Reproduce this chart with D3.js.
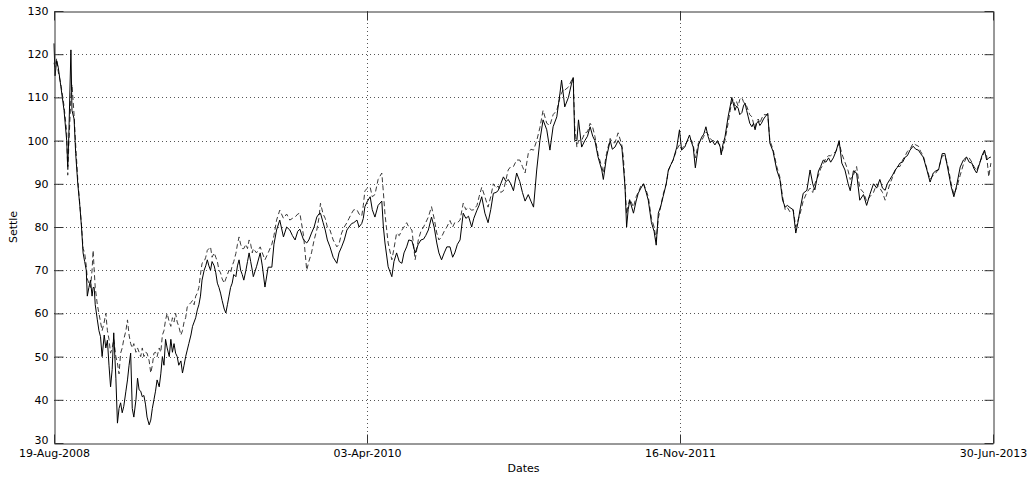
<!DOCTYPE html>
<html>
<head>
<meta charset="utf-8">
<script src="https://cdn.jsdelivr.net/npm/d3@7"></script>
<style>
html,body{margin:0;padding:0;background:#fff;}
svg text{font-family:"DejaVu Sans","Liberation Sans",Arial,sans-serif;fill:#000;}
</style>
</head>
<body>
<svg id="chart" width="1035" height="479"></svg>
<script>
// ---- data ----
const startDate = "2008-08-19";
const endDate = "2013-06-30";
const xTickDates = ["2008-08-19", "2010-04-03", "2011-11-16", "2013-06-30"];
const yTickValues = [30, 40, 50, 60, 70, 80, 90, 100, 110, 120, 130];
const yLabel = "Settle";
const xLabel = "Dates";
// calendar days after the start date
const dayOffsets = [0,2,5,8,13,19,24,26,28,32,34,38,41,45,49,52,55,58,61,63,66,69,72,74,76,78,82,85,88,91,95,98,101,104,107,110,113,117,120,123,126,129,132,136,139,142,145,148,151,155,158,161,164,167,170,173,176,180,183,186,189,192,195,199,202,205,208,211,214,218,221,224,227,230,233,236,240,243,246,249,252,255,259,262,265,268,271,274,277,280,284,287,290,293,296,299,303,306,309,312,315,318,322,325,328,331,334,337,340,344,347,350,353,356,359,363,366,369,372,375,377,383,390,394,399,405,412,416,421,427,434,440,446,451,456,461,465,472,478,482,487,492,497,501,504,509,513,517,522,528,535,539,544,549,554,558,563,567,573,577,582,585,588,593,598,602,607,613,620,623,626,632,639,643,648,653,658,662,667,671,677,683,689,694,699,703,708,714,719,724,728,733,738,743,749,754,758,763,768,774,779,784,790,794,800,804,809,815,821,826,831,836,840,845,850,855,859,864,869,875,881,886,891,897,902,907,913,919,925,932,938,944,951,957,960,964,966,973,979,982,985,989,992,998,1004,1009,1014,1019,1023,1029,1036,1039,1045,1052,1056,1061,1067,1074,1077,1080,1083,1086,1089,1096,1101,1105,1110,1115,1120,1124,1130,1135,1139,1143,1148,1152,1158,1162,1167,1171,1178,1183,1187,1193,1202,1206,1209,1213,1219,1225,1229,1233,1237,1241,1245,1250,1255,1260,1262,1265,1269,1275,1279,1282,1285,1288,1291,1294,1297,1301,1304,1307,1310,1313,1316,1320,1323,1326,1329,1332,1335,1338,1342,1345,1350,1354,1360,1367,1373,1378,1383,1387,1392,1398,1403,1407,1411,1417,1424,1430,1435,1439,1446,1450,1455,1460,1465,1469,1474,1479,1485,1490,1496,1502,1506,1512,1518,1524,1531,1537,1543,1550,1556,1562,1567,1572,1576,1581,1586,1591,1595,1600,1605,1610,1614,1619,1625,1630,1635,1639,1644,1651,1657,1663,1668,1673,1680,1685,1691,1697,1702,1707,1714,1720,1726,1731,1736,1740,1745,1751,1755,1760,1764,1768,1772];
// solid line
const settleA = [122.5,115,118.5,117,112.5,107,100,94,101,121,107,105,97,90,84.7,80,74,72,70,64,66,67.7,64,66,66,62,58.5,56,54.6,50,55,52,53.8,48,43,47,55.5,45,34.6,38,39.3,37,38.5,42,44.6,48,50.8,38,36,40,45,42.3,42,40.7,41,39,36,34.2,35.3,38,40,42,44.6,43,46,50,48,54,52,50,54,51,53,50.8,50,48,49,46.2,48,50,51.5,53,55,57,58,59,60.8,62,64,67.7,70,71,72.4,71,70,72,71,69.4,67,66,64.7,63,61,60.1,62,64,66,67,69,68.5,71,72.4,70,69,67.7,70,72,74,72,70,68.5,70.8,74,71,66.1,70.7,70.7,76,79.3,81.6,77.7,80,79.3,78,77,79,79.5,77,76.3,77,78.6,80,82.3,83,83.2,81,79.3,77,75.4,73,71.6,74,75.4,77,79.3,80,80.8,81,81.6,80,80.8,82,84.7,86,87,84,82.3,85,86,80,76.3,70.8,68.5,72,74,72,71.6,74,75.4,77,76.8,74,76,77,77.2,78,79.3,82.3,80,76.3,74,72.4,74,75.4,75.4,73,74,76,77,83.2,82,82.5,80,82,83.9,85,87,83.2,81,84,87.8,88,88.4,90,91.6,90.5,91,90,88.4,92.5,90.5,88,86,87.5,86,84.6,93.2,100,104.8,102.5,97.8,103.2,105.5,111,114,110,107.8,110,113.3,114.6,100,100,104.8,98.5,100,101,103.2,101,100,96.2,93.2,91,96.2,100,98,98.5,100,98.5,94,89.3,80,84,86.2,83.2,86,87.8,89,90,88,86.2,81,79,75.8,83.2,85,87,90,93.2,94.5,95.5,98.5,102.5,97.8,98.5,101.3,99.5,98.5,93.7,99,100.8,101.5,103.2,101,99.5,100,99,100,98.5,96.7,99,100.8,105.5,108,110,108.5,107,108,107.5,106,106.5,108,108.7,107,105.5,104,103.2,104,102.5,104,104.5,103.5,104,105,105.5,106.3,99.4,97.5,93.2,91,86.2,84.6,85,84.5,84,78.6,81,84,87.8,88.5,93.2,90,88.6,93,94,95.5,95,96,95,96,97.5,100,94.8,93.2,90,88.4,93,92.5,86.2,87.5,85,87.5,90,89,91,89,88.5,90,91,92,93.2,93.8,94.8,95,96.2,96.5,97.8,98.7,98,97.8,97,96.2,93.2,90.4,92.5,93,93.2,97,97,93.2,89.3,87,89.5,93.9,95.5,96.2,95,94.8,93.5,92.5,94.8,96.5,97.8,95.5,96,96.2];
// dashed line
const settleB = [118,117,119,116,113,108,102,92,99,110,113,106,99,91,85,80.5,75,74,71,68,67,66,70,74.6,70,66,62,60,58,56,58,60,56,54,50.8,52,54,50,48.5,46,50.8,52,54,56,58.5,55,53,52,53,51,52,51,50,52,50,51,50.8,49,46.2,48,50.8,51,50,52,51,55,56,58.5,60,58,57,59,58,60,58,57,55,56,58,59,61.5,62,62.5,63,62,64,64.7,66,69,71.6,72,73,74.6,75,75.4,73,74,73,72,70,69.4,68,67,68,69,70,69.4,71,72,73.9,76,77.7,76,75,75,76,75,77,76,74,75,74,75.4,74,72.4,74,76,78,81.6,83.9,82,83,81.6,82,82.3,83,83.2,78,70,72,74,77,79.3,82,85.5,83,82,80,79.3,77,75.4,76,78.6,80,81,82,83.2,84,84,83,82.5,85,88.4,89,89.2,87,87.5,91,92.5,88,83,76.3,72.4,75,78.6,78,79.3,80,81,80,79.3,72.4,77,79,80,81,82.3,84.7,82,78.6,77,77.7,79,80,81.5,80,81,81,81.6,85.5,84,84.5,83.9,84,85,87,89.2,87,84.6,87,90,89,89.5,88,88.4,91,93.2,94,94,95.5,95.5,94,92.5,97,98,97.8,100,103,107,104,103.5,106,107,110,111,112,111.7,112.4,114,114.6,103,98.5,100,100,101.8,102,104,103,101,96.8,94,92.5,97,100.5,99.5,99.5,101.8,99,96,89.8,83,85,86.5,84.6,87,88,89.5,90,88.5,87,82,80,77,82,85,87.5,90,93,94.5,95.5,98,99,98,99,100.5,100,99,96,99.5,100,101,102,101.5,100.5,100,100,99.5,99,97,98,100,104,107,109,109.5,108,109,108,109.5,110,109,108.5,108,107,106,105.5,104,103,104.5,105,104,105,106,106,106,100,98,94,91.5,87,84,84.5,83.5,84,80,81.5,83,86,88,89,88,90,92,93.5,94.5,96,96.5,96.5,97,97.5,99.5,97,95,93,91,92,94,89,88,86,87,88,90,89,88,86.2,88,90,91.5,93,94,94,95.5,96.5,97.5,98,99.4,99,98.7,97.5,96.5,93.5,91,92,92.5,93.5,96.5,96.5,94,90,87.5,89,92,94.5,96.2,96,95,94,93,95,96,97.5,96.5,91.6,94.8];

// ---- layout ----
const svg = d3.select("#chart");
const L = 54, R = 993, T = 11, B = 443;
const parse = d3.timeParse("%Y-%m-%d");
const t0 = parse(startDate);
const dates = dayOffsets.map(d => d3.timeDay.offset(t0, d));

const x = d3.scaleTime().domain([t0, parse(endDate)]).range([L, R]);
const y = d3.scaleLinear().domain([30, 130]).range([B, T]);
const xTicks = xTickDates.map(parse);
const fmt = d3.timeFormat("%d-%b-%Y");
const tickLen = 9;

// gridlines (dotted)
const grid = svg.append("g").attr("stroke", "#555").attr("stroke-width", 1)
  .attr("stroke-dasharray", "1,3").attr("shape-rendering", "crispEdges");
grid.selectAll("line.hy").data(yTickValues.slice(1, -1)).join("line")
  .attr("x1", L).attr("x2", R)
  .attr("y1", d => Math.round(y(d)) + 0.5).attr("y2", d => Math.round(y(d)) + 0.5);
grid.selectAll("line.vx").data(xTicks.slice(1, -1)).join("line")
  .attr("y1", T).attr("y2", B)
  .attr("x1", d => Math.round(x(d)) + 0.5).attr("x2", d => Math.round(x(d)) + 0.5);

// series lines
const line = (vals) => d3.line().x((d, i) => x(dates[i])).y(d => y(d))(vals);
svg.append("path").attr("d", line(settleB)).attr("fill", "none")
  .attr("stroke", "#3a3a3a").attr("stroke-width", 1).attr("stroke-dasharray", "5,3");
svg.append("path").attr("d", line(settleA)).attr("fill", "none")
  .attr("stroke", "#000").attr("stroke-width", 1);

// axes (MATLAB style: inward ticks, box)
const yAxisL = d3.axisLeft(y).tickValues(yTickValues).tickSizeInner(-tickLen).tickSizeOuter(0).tickPadding(6);
const yAxisR = d3.axisRight(y).tickValues(yTickValues).tickSizeInner(-tickLen).tickSizeOuter(0).tickFormat("");
const xAxisB = d3.axisBottom(x).tickValues(xTicks).tickFormat(fmt).tickSizeInner(-tickLen).tickSizeOuter(0).tickPadding(6);
const xAxisT = d3.axisTop(x).tickValues(xTicks).tickSizeInner(-tickLen).tickSizeOuter(0).tickFormat("");

function style(g) {
  g.selectAll("path.domain").attr("stroke", "#333");
  g.selectAll(".tick line").attr("stroke", "#333");
  g.selectAll("text").attr("font-size", "11px").attr("fill", "#000")
    .attr("font-family", '"DejaVu Sans","Liberation Sans",Arial,sans-serif');
}
const gL = svg.append("g").attr("transform", `translate(${L + 0.5},0)`).call(yAxisL).call(style);
// lift the lowest y label a little so it clears the first date label
gL.selectAll(".tick text").filter(d => d === 30).attr("dy", "0.05em");
svg.append("g").attr("transform", `translate(${R + 0.5},0)`).call(yAxisR).call(style);
svg.append("g").attr("transform", `translate(0,${B + 0.5})`).call(xAxisB).call(style);
svg.append("g").attr("transform", `translate(0,${T + 0.5})`).call(xAxisT).call(style);

// axis labels
svg.append("text").attr("x", (L + R) / 2).attr("y", 472).attr("text-anchor", "middle")
  .attr("font-size", "11px").text(xLabel);
svg.append("text").attr("transform", `translate(17,${(T + B) / 2}) rotate(-90)`)
  .attr("text-anchor", "middle").attr("font-size", "11px").text(yLabel);
</script>
</body>
</html>
